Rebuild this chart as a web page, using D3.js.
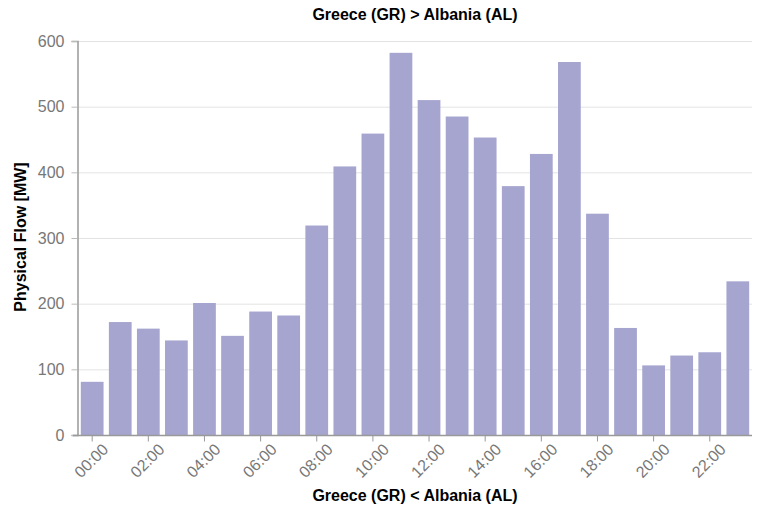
<!DOCTYPE html>
<html>
<head>
<meta charset="utf-8">
<script src="https://cdn.jsdelivr.net/npm/d3@7"></script>
<style>
  body { margin: 0; background: #fff; }
  svg { display: block; font-family: "Liberation Sans", Arial, sans-serif; }
</style>
</head>
<body>
<script>
// Hourly physical flow, Greece -> Albania
const hours = d3.range(24).map(h => String(h).padStart(2, "0") + ":00");
const flow = [81, 172, 162, 144, 201, 151, 188, 182, 319, 409, 459, 582,
              510, 485, 453, 379, 428, 568, 337, 163, 106, 121, 126, 234];
const yTicks = [0, 100, 200, 300, 400, 500, 600];

const width = 780, height = 513;
const margin = { top: 41, right: 28, bottom: 78, left: 77 };

const svg = d3.select("body")
  .append("svg")
  .attr("width", width)
  .attr("height", height);

const x = d3.scaleBand()
  .domain(hours)
  .range([margin.left + 1, width - margin.right])
  .paddingInner(0.19)
  .paddingOuter(0.1);

const y = d3.scaleLinear()
  .domain([0, 600])
  .range([height - margin.bottom, margin.top]);

// gridlines
svg.append("g")
  .selectAll("line")
  .data(yTicks.slice(1))
  .join("line")
  .attr("x1", margin.left)
  .attr("x2", width - margin.right)
  .attr("y1", d => y(d) + 0.5)
  .attr("y2", d => y(d) + 0.5)
  .attr("stroke", "#e3e3e3")
  .attr("stroke-width", 1);

// bars
svg.append("g")
  .selectAll("rect")
  .data(flow)
  .join("rect")
  .attr("x", (d, i) => x(hours[i]))
  .attr("y", d => y(d))
  .attr("width", x.bandwidth())
  .attr("height", d => y(0) - y(d))
  .attr("fill", "#a5a5d0");

// y axis
const yAxis = svg.append("g")
  .attr("transform", `translate(${margin.left + 0.5},0)`)
  .call(d3.axisLeft(y).tickValues(yTicks).tickSize(6).tickPadding(7));
yAxis.select(".domain").attr("stroke", "#999").attr("stroke-width", 1.5);
yAxis.selectAll(".tick line").attr("stroke", "#bbb");
yAxis.selectAll(".tick text")
  .attr("fill", "#777")
  .style("font-size", "16px");

// x axis
const xAxis = svg.append("g")
  .attr("transform", `translate(0,${y(0) + 0.5})`)
  .call(d3.axisBottom(x)
    .tickValues(hours.filter((h, i) => i % 2 === 0))
    .tickSize(6)
    .tickSizeOuter(0));
xAxis.select(".domain")
  .attr("d", `M${margin.left - 4},0H${width - margin.right}`)
  .attr("stroke", "#999")
  .attr("stroke-width", 1.5);
xAxis.selectAll(".tick line").attr("stroke", "#999");
xAxis.selectAll(".tick text")
  .attr("fill", "#777")
  .style("font-size", "16px")
  .attr("text-anchor", "end")
  .attr("dx", "0.1em")
  .attr("dy", "0.85em")
  .attr("transform", "rotate(-45)");

// titles
svg.append("text")
  .attr("x", 415)
  .attr("y", 20)
  .attr("text-anchor", "middle")
  .style("font-size", "16px")
  .style("font-weight", "bold")
  .text("Greece (GR) > Albania (AL)");

svg.append("text")
  .attr("x", 415)
  .attr("y", 501)
  .attr("text-anchor", "middle")
  .style("font-size", "16px")
  .style("font-weight", "bold")
  .text("Greece (GR) < Albania (AL)");

svg.append("text")
  .attr("transform", "translate(26,237) rotate(-90)")
  .attr("text-anchor", "middle")
  .style("font-size", "16px")
  .style("font-weight", "bold")
  .text("Physical Flow [MW]");
</script>
</body>
</html>
